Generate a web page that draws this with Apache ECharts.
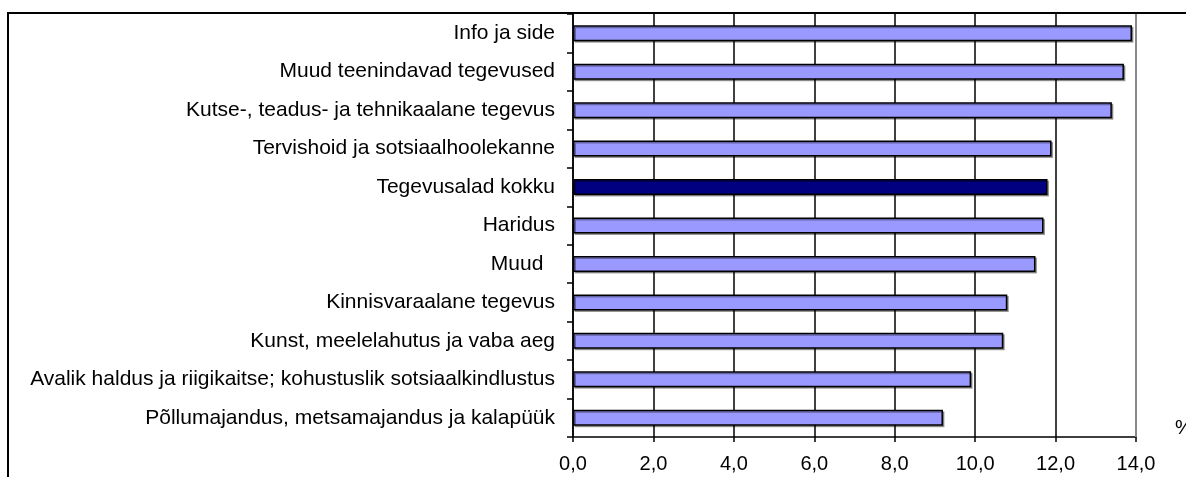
<!DOCTYPE html>
<html>
<head>
<meta charset="utf-8">
<title>Tegevusalad</title>
<script src="https://cdn.jsdelivr.net/npm/echarts@6/dist/echarts.min.js"></script>
<style>
  html, body { margin: 0; padding: 0; background: #fff; }
  #chart { width: 1186px; height: 477px; }
</style>
</head>
<body>
<div id="chart"></div>
<script>
// Categories, top to bottom
const categories = [
  'Info ja side',
  'Muud teenindavad tegevused',
  'Kutse-, teadus- ja tehnikaalane tegevus',
  'Tervishoid ja sotsiaalhoolekanne',
  'Tegevusalad kokku',
  'Haridus',
  'Muud  ',
  'Kinnisvaraalane tegevus',
  'Kunst, meelelahutus ja vaba aeg',
  'Avalik haldus ja riigikaitse; kohustuslik sotsiaalkindlustus',
  'Põllumajandus, metsamajandus ja kalapüük'
];

// Share, %
const values = [13.9, 13.7, 13.4, 11.9, 11.8, 11.7, 11.5, 10.8, 10.7, 9.9, 9.2];

// The total row is drawn in a darker colour
const totalCategory = 'Tegevusalad kokku';

// Value axis
const axisMin = 0;
const axisMax = 14;
const axisStep = 2;
const unitLabel = '%';

const font = '"Liberation Sans", Arial, sans-serif';

const chart = echarts.init(document.getElementById('chart'), null, { renderer: 'canvas' });

const barData = values.map((v, i) => ({
  value: v,
  itemStyle: categories[i] === totalCategory ? { color: '#000080' } : undefined
}));

chart.setOption({
  animation: false,
  backgroundColor: '#ffffff',
  grid: { left: 573, right: 50, top: 14, bottom: 40, containLabel: false },
  xAxis: {
    type: 'value',
    min: axisMin,
    max: axisMax,
    interval: axisStep,
    axisLine: { show: true, lineStyle: { color: '#000', width: 1.5 } },
    axisTick: { show: true, length: 5, lineStyle: { color: '#000', width: 1.5 } },
    axisLabel: {
      margin: 17,
      color: '#000',
      fontFamily: font,
      fontSize: 20,
      formatter: v => v.toFixed(1).replace('.', ',')
    },
    splitLine: {
      show: true,
      lineStyle: { color: ['#000', '#000', '#000', '#000', '#000', '#000', '#000', '#888'], width: 1.5 }
    }
  },
  yAxis: {
    type: 'category',
    data: categories,
    inverse: true,
    axisLine: { show: true, lineStyle: { color: '#000', width: 1.5 } },
    axisTick: { show: true, length: 6, lineStyle: { color: '#000', width: 1.5 } },
    axisLabel: {
      margin: 18,
      color: '#000',
      fontFamily: font,
      fontSize: 21
    },
    splitLine: { show: false }
  },
  series: [{
    type: 'bar',
    data: barData,
    barWidth: 16,
    itemStyle: {
      color: '#9999ff',
      borderColor: '#000',
      borderWidth: 1.5,
      shadowColor: 'rgba(0,0,0,0.35)',
      shadowOffsetX: 1.5,
      shadowOffsetY: 1.5,
      shadowBlur: 0
    }
  }],
  graphic: [
    // Outer frame of the chart area
    {
      type: 'rect',
      shape: { x: 8, y: 13, width: 1300, height: 600 },
      style: { fill: null, stroke: '#000', lineWidth: 2 },
      silent: true,
      z: 10
    },
    // Right plot border
    {
      type: 'line',
      shape: { x1: 1136, y1: 13, x2: 1136, y2: 437 },
      style: { stroke: '#888', lineWidth: 2 },
      silent: true,
      z: 9
    },
    {
      type: 'text',
      left: 1175,
      top: 418,
      style: { text: unitLabel, font: '20px ' + font, fill: '#000' },
      silent: true
    }
  ]
});
</script>
</body>
</html>
